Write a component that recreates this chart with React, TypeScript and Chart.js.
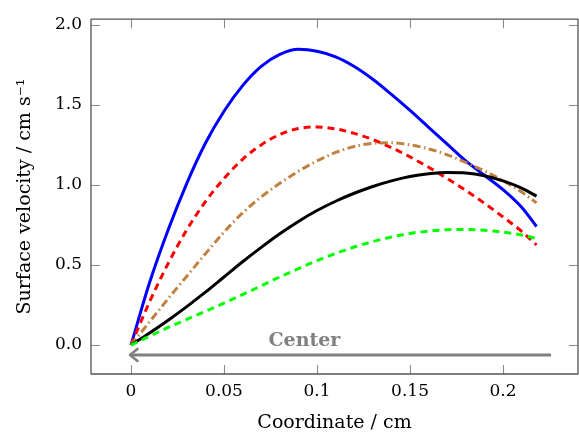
import React, { useEffect, useRef } from 'react';
import { Chart, registerables } from 'chart.js';

Chart.register(...registerables);

// ---- data ----
const COORD = [0, 0.01, 0.02, 0.03, 0.04, 0.05, 0.06, 0.07, 0.08, 0.09, 0.1, 0.11, 0.12, 0.13, 0.14, 0.15, 0.16, 0.17, 0.18, 0.19, 0.2, 0.21, 0.218];
const BLUE = [0, 0.39, 0.72, 1.01, 1.26, 1.46, 1.62, 1.74, 1.815, 1.847, 1.835, 1.8, 1.74, 1.66, 1.565, 1.465, 1.36, 1.255, 1.15, 1.06, 0.97, 0.86, 0.74];
const RED = [0, 0.27, 0.51, 0.72, 0.895, 1.04, 1.16, 1.25, 1.315, 1.352, 1.362, 1.35, 1.322, 1.283, 1.233, 1.175, 1.11, 1.04, 0.965, 0.885, 0.8, 0.71, 0.625];
const BROWN = [0, 0.145, 0.29, 0.43, 0.57, 0.705, 0.825, 0.925, 1.01, 1.085, 1.15, 1.203, 1.24, 1.26, 1.263, 1.25, 1.225, 1.188, 1.14, 1.087, 1.027, 0.955, 0.888];
const BLACK = [0, 0.075, 0.155, 0.24, 0.33, 0.425, 0.52, 0.61, 0.695, 0.772, 0.84, 0.898, 0.948, 0.99, 1.025, 1.052, 1.069, 1.077, 1.074, 1.057, 1.025, 0.98, 0.93];
const GREEN = [0, 0.055, 0.11, 0.16, 0.21, 0.262, 0.315, 0.37, 0.425, 0.477, 0.527, 0.572, 0.612, 0.646, 0.675, 0.697, 0.712, 0.72, 0.722, 0.717, 0.705, 0.687, 0.665];

const X_TICKS = [0, 0.05, 0.1, 0.15, 0.2];
const X_TICK_LABELS = ['0', '0.05', '0.1', '0.15', '0.2'];
const Y_TICKS = [0, 0.5, 1, 1.5, 2];
const Y_TICK_LABELS = ['0.0', '0.5', '1.0', '1.5', '2.0'];
const X_RANGE = [-0.0215, 0.2403];
const Y_RANGE = [-0.181, 2.035];

const ARROW_X = [0.2258, 0];
const ARROW_Y = [-0.062, -0.062];
const CENTER_LABEL = 'Center';
const CENTER_POS = [0.0932, 0.027];

const X_TITLE = 'Coordinate / cm';
const Y_TITLE = 'Surface velocity / cm s\u207B\u00B9';

const FONT = '"DejaVu Serif", "Liberation Serif", serif';

const pts = (ys: number[]) => COORD.map((x, i) => ({ x, y: ys[i] }));

const framePlugin = {
  id: 'frameTicks',
  afterDatasetsDraw(chart: any) {
    const { ctx, chartArea: a, scales } = chart;
    const xs = scales.x;
    const ys = scales.y;
    ctx.save();
    // arrow head
    const tx = xs.getPixelForValue(ARROW_X[1]);
    const ty = ys.getPixelForValue(ARROW_Y[1]);
    ctx.strokeStyle = '#808080';
    ctx.lineWidth = 2.6;
    ctx.lineCap = 'round';
    ctx.lineJoin = 'round';
    ctx.beginPath();
    ctx.moveTo(tx + 6.5, ty - 6);
    ctx.lineTo(tx - 1, ty);
    ctx.lineTo(tx + 6.5, ty + 6);
    ctx.stroke();
    // label
    ctx.fillStyle = '#808080';
    ctx.font = `bold 19px ${FONT}`;
    ctx.textAlign = 'center';
    ctx.textBaseline = 'middle';
    ctx.fillText(CENTER_LABEL, xs.getPixelForValue(CENTER_POS[0]), ys.getPixelForValue(CENTER_POS[1]));
    // inward ticks
    ctx.strokeStyle = '#8a8a8a';
    ctx.lineWidth = 1.1;
    ctx.lineCap = 'butt';
    const L = 9;
    ctx.beginPath();
    X_TICKS.forEach((v) => {
      const p = Math.round(xs.getPixelForValue(v)) + 0.5;
      ctx.moveTo(p, a.bottom);
      ctx.lineTo(p, a.bottom - L);
      ctx.moveTo(p, a.top);
      ctx.lineTo(p, a.top + L);
    });
    Y_TICKS.forEach((v) => {
      const p = Math.round(ys.getPixelForValue(v)) + 0.5;
      ctx.moveTo(a.left, p);
      ctx.lineTo(a.left + L, p);
      ctx.moveTo(a.right, p);
      ctx.lineTo(a.right - L, p);
    });
    ctx.stroke();
    // frame
    ctx.strokeStyle = '#555555';
    ctx.lineWidth = 1.3;
    ctx.strokeRect(a.left, a.top, a.right - a.left, a.bottom - a.top);
    ctx.restore();
  },
};

export default function App() {
  const ref = useRef<HTMLCanvasElement | null>(null);

  useEffect(() => {
    if (!ref.current) return;
    const line = (data: number[], color: string, dash: number[]) => ({
      data: pts(data),
      borderColor: color,
      borderWidth: 3,
      borderDash: dash,
      borderCapStyle: 'butt',
      pointRadius: 0,
      cubicInterpolationMode: 'monotone',
      fill: false,
    });
    const chart = new Chart(ref.current, {
      type: 'line',
      data: {
        datasets: [
          {
            data: ARROW_X.map((x, i) => ({ x, y: ARROW_Y[i] })),
            borderColor: '#808080',
            borderWidth: 3,
            pointRadius: 0,
            fill: false,
          } as any,
          line(GREEN, '#00ff00', [7, 5]),
          line(BLACK, '#000000', []),
          line(BROWN, '#bf8040', [8, 3.5, 1.5, 3.5]),
          line(RED, '#ff0000', [7, 5]),
          line(BLUE, '#0000ff', []),
        ] as any,
      },
      options: {
        responsive: false,
        animation: false,
        layout: { padding: { left: 0, right: 1, top: 17, bottom: 0 } },
        plugins: { legend: { display: false }, tooltip: { enabled: false } },
        scales: {
          x: {
            type: 'linear',
            min: X_RANGE[0],
            max: X_RANGE[1],
            afterBuildTicks: (s: any) => {
              s.ticks = X_TICKS.map((value) => ({ value }));
            },
            afterFit: (s: any) => {
              s.height = 62;
            },
            ticks: {
              autoSkip: false,
              maxRotation: 0,
              padding: 7,
              color: '#000',
              font: { family: FONT, size: 17 },
              callback: (v: any) => X_TICK_LABELS[X_TICKS.indexOf(Number(v))] ?? '',
            },
            grid: { display: false, drawTicks: false },
            border: { display: false },
            title: {
              display: true,
              text: X_TITLE,
              color: '#000',
              font: { family: FONT, size: 19 },
              padding: { top: 0, bottom: 1.3 },
            },
          },
          y: {
            type: 'linear',
            min: Y_RANGE[0],
            max: Y_RANGE[1],
            afterBuildTicks: (s: any) => {
              s.ticks = Y_TICKS.map((value) => ({ value }));
            },
            afterFit: (s: any) => {
              s.width = 91;
            },
            ticks: {
              autoSkip: false,
              padding: 9,
              color: '#000',
              font: { family: FONT, size: 17 },
              callback: (v: any) => Y_TICK_LABELS[Y_TICKS.indexOf(Number(v))] ?? '',
            },
            grid: { display: false, drawTicks: false },
            border: { display: false },
            title: {
              display: true,
              text: Y_TITLE,
              color: '#000',
              font: { family: FONT, size: 19 },
              padding: { top: 13.6, bottom: 0 },
            },
          },
        },
      } as any,
      plugins: [framePlugin],
    });
    return () => chart.destroy();
  }, []);

  return (
    <div style={{ position: 'fixed', left: 0, top: 0, width: 579, height: 436, background: '#fff' }}>
      <canvas ref={ref} width={579} height={436} style={{ display: 'block', width: 579, height: 436 }} />
    </div>
  );
}
